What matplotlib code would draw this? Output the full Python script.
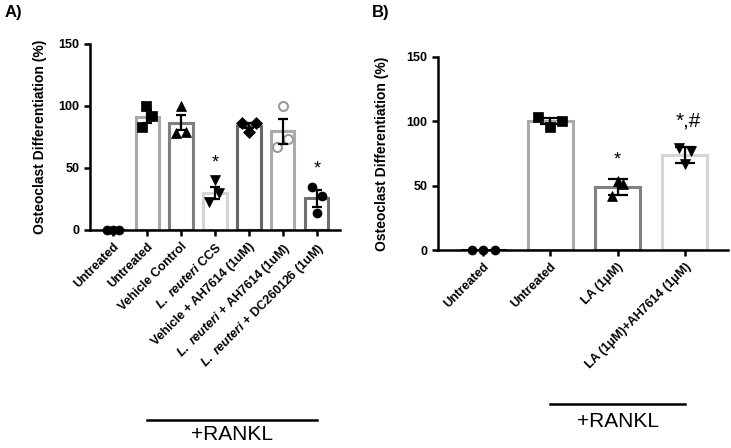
"""Osteoclast differentiation bar charts, panels A and B."""
import matplotlib
matplotlib.use("Agg")
import matplotlib.pyplot as plt

plt.rcParams["font.family"] = ["Liberation Sans", "DejaVu Sans"]
plt.rcParams["font.weight"] = "bold"
plt.rcParams["mathtext.fontset"] = "custom"
plt.rcParams["mathtext.it"] = "Liberation Sans:italic:bold"
plt.rcParams["mathtext.rm"] = "Liberation Sans:bold"

# ---- panel A data ----
a_labels = ["Untreated", "Untreated", "Vehicle Control", "$\\it{L.\\ reuteri}$ CCS",
            "Vehicle + AH7614 (1uM)", "$\\it{L.\\ reuteri}$ + AH7614 (1uM)",
            "$\\it{L.\\ reuteri}$ + DC260126 (1uM)"]
a_means = [0, 91.4, 86.5, 30, 84, 79.6, 25.5]
a_sem = [0, 5.1, 6.2, 5.0, 2.0, 10.0, 6.7]
a_points = [
    [0, 0, 0],
    [100, 92, 82.8],
    [100, 78, 79.3],
    [40, 29.6, 22.8],
    [86, 86, 79.3],
    [100, 66.7, 73],
    [34.4, 27.4, 14],
]
a_stars = {3: ("*", 53.8), 6: ("*", 49)}

# ---- panel B data ----
b_labels = ["Untreated", "Untreated", "LA (1μM)", "LA (1μM)+AH7614 (1μM)"]
b_means = [0, 100, 49, 73.7]
b_sem = [0, 2.6, 6.0, 6.5]
b_points = [
    [0, 0, 0],
    [103.4, 100, 95.7],
    [53.8, 51, 42],
    [79.4, 76.8, 66.5],
]
b_stars = {2: ("*", 70), 3: ("*,#", 100)}

# ---- styling ----
a_edge = ["black", "#a9a9a9", "#808080", "#d4d4d4", "#666666", "#aaaaaa", "#707070"]
a_marker = ["o", "s", "^", "v", "D", "o", "o"]
a_mface = ["black"] * 5 + ["none", "black"]
a_medge = ["black"] * 5 + ["#9a9a9a", "black"]
a_offsets = [[-0.17, 0, 0.17], [-0.02, 0.15, -0.14], [0, -0.15, 0.14],
             [0, 0.13, -0.17], [-0.2, 0.2, 0], [0, -0.17, 0.15], [-0.15, 0.15, 0]]

b_edge = ["black", "#a9a9a9", "#808080", "#d6d6d6"]
b_marker = ["o", "s", "^", "v"]
b_offsets = [[-0.17, 0, 0.17], [-0.18, 0.17, 0], [0, 0.085, -0.09], [-0.09, 0.085, 0]]


def draw_panel(ax, labels, means, sem, points, edges, markers, mfaces, medges,
               offsets, stars, width, capsize, msize, labelpad):
    x = list(range(len(labels)))
    ax.bar(x, means, width=width, color="white", edgecolor=edges, linewidth=2.2,
           zorder=2)
    for i, pts in enumerate(points):
        xs = [i + o for o in offsets[i]]
        ax.plot(xs, pts, linestyle="none", marker=markers[i], markersize=msize,
                markerfacecolor=mfaces[i], markeredgecolor=medges[i],
                markeredgewidth=1.5 if mfaces[i] == "none" else 0.5,
                zorder=3, clip_on=False)
        if sem[i] > 0:
            ax.errorbar(i, means[i], yerr=sem[i], fmt="none", ecolor="black",
                        elinewidth=1.6, capsize=capsize, capthick=1.6, zorder=4)
    for i, (txt, y) in stars.items():
        ax.text(i + (0.05 if len(txt) > 1 else 0), y, txt, ha="center",
                va="center", fontsize=15 if len(txt) > 1 else 13,
                fontweight="normal")
    ax.set_ylim(0, 150)
    ax.set_yticks([0, 50, 100, 150])
    ax.set_xticks(x)
    ax.set_xticklabels(labels, rotation=45, ha="right", rotation_mode="anchor",
                       fontsize=9, fontweight="bold")
    ax.tick_params(axis="y", labelsize=9, width=1.8, length=4)
    ax.tick_params(axis="x", width=1.8, length=4)
    for s in ["top", "right"]:
        ax.spines[s].set_visible(False)
    for s in ["left", "bottom"]:
        ax.spines[s].set_linewidth(1.8)
    ax.set_ylabel("Osteoclast Differentiation (%)", fontsize=10,
                  fontweight="bold", labelpad=labelpad)


fig = plt.figure(figsize=(7.31, 4.48), dpi=100)

ax_a = fig.add_axes([90 / 731, 1 - 230 / 448, 250 / 731, 186 / 448])
draw_panel(ax_a, a_labels, a_means, a_sem, a_points, a_edge, a_marker, a_mface,
           a_medge, a_offsets, a_stars, 0.68, 3.5, 6.5, 8)
ax_a.set_xlim(-0.68, 6.68)

ax_b = fig.add_axes([438 / 731, 1 - 250 / 448, 290 / 731, 193.3 / 448])
draw_panel(ax_b, b_labels, b_means, b_sem, b_points, b_edge, b_marker,
           ["black"] * 4, ["black"] * 4, b_offsets, b_stars, 0.67, 7.5, 6.5, 13)
ax_b.set_xlim(-0.67, 3.64)

# +RANKL brackets
for ax, x0, x1, yl, yt in [(ax_a, 1.0, 6.0, -1.02, -1.1), (ax_b, 1.0, 3.0, -0.797, -0.887)]:
    tr = ax.get_xaxis_transform()
    ax.plot([x0, x1], [yl, yl], color="black", linewidth=1.8, transform=tr,
            clip_on=False)
    ax.text((x0 + x1) / 2, yt, "+RANKL", transform=tr, ha="center", va="center",
            fontsize=15, fontweight="normal")

fig.text(5 / 731, 1 - 12 / 448, "A)", fontsize=12, fontweight="bold", va="center")
fig.text(372 / 731, 1 - 12 / 448, "B)", fontsize=12, fontweight="bold", va="center")

fig.savefig("out.png", dpi=100)
